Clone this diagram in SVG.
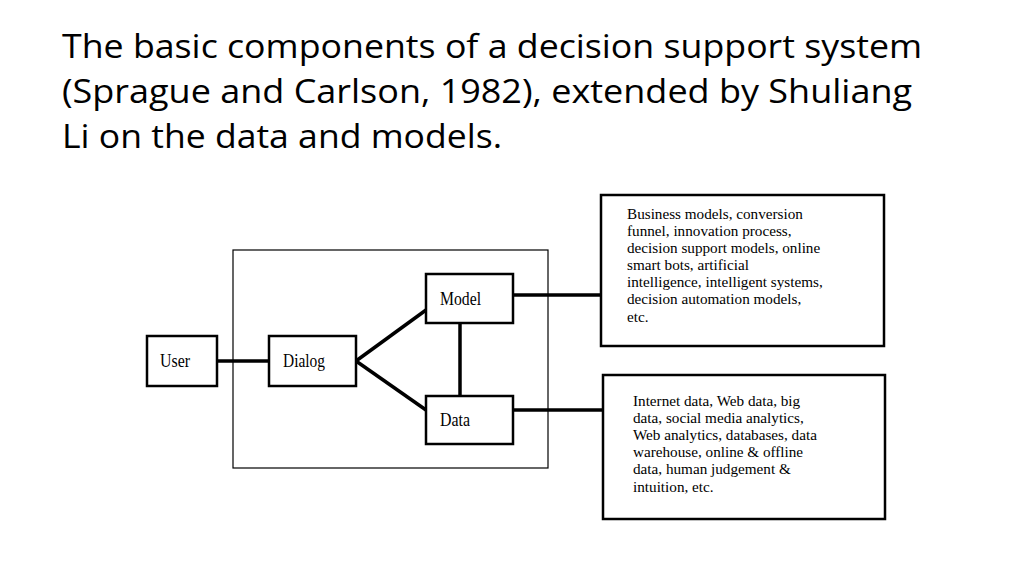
<svg xmlns="http://www.w3.org/2000/svg" width="1024" height="576" viewBox="0 0 1024 576">
<style>
.t{font-family:"Open Sans","Liberation Sans",sans-serif;font-size:32px;fill:#000}
.n{font-family:"Liberation Serif",serif;font-size:18px;fill:#000}
.s{font-family:"Liberation Serif",serif;font-size:15.2px;fill:#000}
.b{fill:#fff;stroke:#000;stroke-width:2.5}
.c{stroke:#000;stroke-width:3.5;fill:none}
</style>
<rect width="1024" height="576" fill="#fff"/>
<g id="title">
<text class="t" x="62" y="58" textLength="860" lengthAdjust="spacingAndGlyphs">The basic components of a decision support system</text>
<text class="t" x="62" y="103" textLength="850" lengthAdjust="spacingAndGlyphs">(Sprague and Carlson, 1982), extended by Shuliang</text>
<text class="t" x="62" y="148" textLength="440" lengthAdjust="spacingAndGlyphs">Li on the data and models.</text>
</g>
<rect id="frame" x="233" y="250" width="315" height="218" fill="none" stroke="#000" stroke-width="1.2"/>
<g id="connectors">
<line class="c" x1="217" y1="361" x2="269" y2="361"/>
<line class="c" x1="356" y1="361" x2="426" y2="310"/>
<line class="c" x1="356" y1="361" x2="426" y2="410"/>
<line class="c" x1="460" y1="323" x2="460" y2="396"/>
<line class="c" x1="513" y1="295" x2="601" y2="295"/>
<line class="c" x1="513" y1="410" x2="603" y2="410"/>
</g>
<g id="user"><rect class="b" x="147" y="336" width="70" height="50"/><text class="n" x="160" y="367" textLength="30" lengthAdjust="spacingAndGlyphs">User</text></g>
<g id="dialog"><rect class="b" x="269" y="336" width="87" height="50"/><text class="n" x="283" y="367" textLength="42" lengthAdjust="spacingAndGlyphs">Dialog</text></g>
<g id="model"><rect class="b" x="426" y="274" width="87" height="49"/><text class="n" x="440" y="305" textLength="41" lengthAdjust="spacingAndGlyphs">Model</text></g>
<g id="data"><rect class="b" x="426" y="396" width="87" height="48"/><text class="n" x="440" y="426" textLength="30" lengthAdjust="spacingAndGlyphs">Data</text></g>
<g id="models-box"><rect class="b" x="601" y="195" width="283" height="151" stroke-width="3"/>
<text class="s" x="627" y="219">Business models, conversion</text>
<text class="s" x="627" y="236">funnel, innovation process,</text>
<text class="s" x="627" y="253">decision support models, online</text>
<text class="s" x="627" y="270">smart bots, artificial</text>
<text class="s" x="627" y="287">intelligence, intelligent systems,</text>
<text class="s" x="627" y="304">decision automation models,</text>
<text class="s" x="627" y="322">etc.</text>
</g>
<g id="data-box"><rect class="b" x="603" y="375" width="282" height="144" stroke-width="3"/>
<text class="s" x="633" y="406">Internet data, Web data, big</text>
<text class="s" x="633" y="423">data, social media analytics,</text>
<text class="s" x="633" y="440">Web analytics, databases, data</text>
<text class="s" x="633" y="457">warehouse, online &amp; offline</text>
<text class="s" x="633" y="474">data, human judgement &amp;</text>
<text class="s" x="633" y="492">intuition, etc.</text>
</g>
</svg>
